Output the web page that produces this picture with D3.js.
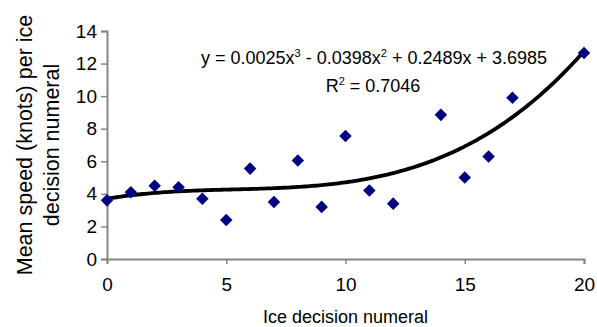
<!DOCTYPE html>
<html>
  <head>
    <meta charset="utf-8">
    <style>
      body { margin: 0; background: #fff; }
      text { font-family: "Liberation Sans", Arial, sans-serif; fill: #000; }
    </style>
  </head>
  <body>
    <div id="chart"></div>
    <script src="https://d3js.org/d3.v7.min.js"></script>
    <script>
    // values
    var iceDecision = [0, 1, 2, 3, 4, 5, 6, 7, 8, 9, 10, 11, 12, 14, 15, 16, 17, 20];
    var meanSpeed   = [3.6, 4.1, 4.5, 4.4, 3.7, 2.4, 5.55, 3.5, 6.05, 3.2, 7.55, 4.2, 3.4, 8.85, 5.0, 6.3, 9.9, 12.65];
    // cubic trendline, as printed on the chart: a3, a2, a1, a0
    var trendCoef = [0.0025, -0.0398, 0.2489, 3.6985];
    var xTicks = [0, 5, 10, 15, 20];
    var yTicks = [0, 2, 4, 6, 8, 10, 12, 14];

    var width = 597, height = 327;
    var margin = {left: 107, right: 13, top: 31, bottom: 68};

    var svg = d3.select("#chart").append("svg")
        .attr("width", width)
        .attr("height", height);

    var x = d3.scaleLinear()
        .domain([0, 20])
        .range([margin.left, width - margin.right]);

    var y = d3.scaleLinear()
        .domain([0, 14])
        .range([height - margin.bottom, margin.top]);

    //--------------------------------------------------------- axes
    var xAxis = svg.append("g")
        .attr("transform", "translate(0," + y(0) + ")")
        .call(d3.axisBottom(x).tickValues(xTicks).tickSize(5).tickPadding(14));

    var yAxis = svg.append("g")
        .attr("transform", "translate(" + x(0) + ",0)")
        .call(d3.axisLeft(y).tickValues(yTicks).tickSize(6).tickPadding(4));

    [xAxis, yAxis].forEach(function(g) {
      g.select(".domain").attr("stroke", "#868686").attr("stroke-width", 2);
      g.selectAll(".tick line").attr("stroke", "#868686").attr("stroke-width", 1.5);
      g.selectAll(".tick text")
        .style("font-family", "Liberation Sans, Arial, sans-serif")
        .style("font-size", "19px")
        .attr("fill", "#000");
    });

    //--------------------------------------------------------- trendline
    function poly(v) {
      return trendCoef[0] * v * v * v + trendCoef[1] * v * v + trendCoef[2] * v + trendCoef[3];
    }

    svg.append("path")
        .datum(d3.range(0, 20.01, 0.1))
        .attr("fill", "none")
        .attr("stroke", "#000")
        .attr("stroke-width", 3.8)
        .attr("d", d3.line()
            .x(function(d) { return x(d); })
            .y(function(d) { return y(poly(d)); }));

    //--------------------------------------------------------- points
    var diamond = d3.symbol().type(d3.symbolDiamond2).size(100);

    svg.append("g")
      .selectAll("path")
      .data(iceDecision)
      .enter().append("path")
        .attr("d", diamond)
        .attr("fill", "#000080")
        .attr("transform", function(d, i) {
          return "translate(" + x(d) + "," + y(meanSpeed[i]) + ")";
        });

    //--------------------------------------------------------- equation
    var eq = svg.append("text")
        .attr("x", 374)
        .attr("y", 64)
        .attr("text-anchor", "middle")
        .style("font-size", "18px");
    eq.append("tspan").text("y = 0.0025x");
    eq.append("tspan").attr("dy", -7).style("font-size", "11px").text("3");
    eq.append("tspan").attr("dy", 7).text(" - 0.0398x");
    eq.append("tspan").attr("dy", -7).style("font-size", "11px").text("2");
    eq.append("tspan").attr("dy", 7).text(" + 0.2489x + 3.6985");

    var r2 = svg.append("text")
        .attr("x", 373)
        .attr("y", 92)
        .attr("text-anchor", "middle")
        .style("font-size", "18px");
    r2.append("tspan").text("R");
    r2.append("tspan").attr("dy", -7).style("font-size", "11px").text("2");
    r2.append("tspan").attr("dy", 7).text(" = 0.7046");

    //--------------------------------------------------------- axis titles
    svg.append("text")
        .attr("x", (x(0) + x(20)) / 2)
        .attr("y", 323)
        .attr("text-anchor", "middle")
        .style("font-size", "18px")
        .text("Ice decision numeral");

    var yTitle = svg.append("text")
        .attr("transform", "translate(0," + (y(7)) + ") rotate(-90)")
        .attr("text-anchor", "middle")
        .style("font-size", "21.5px");
    yTitle.append("tspan").attr("x", 0).attr("y", 32).text("Mean speed (knots) per ice");
    yTitle.append("tspan").attr("x", 0).attr("y", 59).text("decision numeral");
    </script>
  </body>
</html>
